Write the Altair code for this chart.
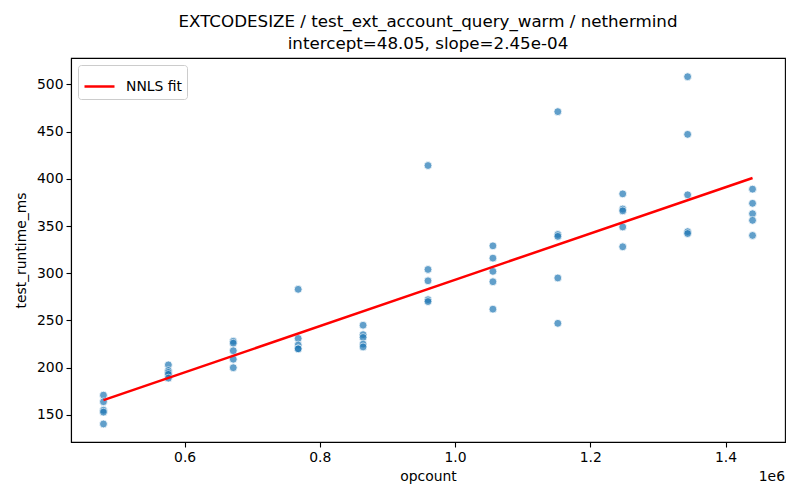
import altair as alt
import pandas as pd

# ---- data ----
opcounts = [480000, 576000, 672000, 768000, 864000, 960000,
            1056000, 1152000, 1248000, 1344000, 1440000]
runtimes = [
    [171, 164, 155, 153, 140.5],
    [203, 197, 195, 193, 189],
    [228, 226, 218, 209, 200],
    [283, 231, 224, 220, 220],
    [245, 235, 232, 225, 222],
    [414, 304, 292, 272, 270],
    [329, 316, 302, 291, 262],
    [471, 341, 339, 295, 247],
    [384, 368, 366, 349, 328],
    [508, 447, 383, 344, 342],
    [389, 374, 363, 356, 340],
]
intercept = 48.05
slope = 2.45e-4
fit_label = "NNLS fit"
title_lines = ["EXTCODESIZE / test_ext_account_query_warm / nethermind",
               "intercept=48.05, slope=2.45e-04"]
x_ticks = [600000, 800000, 1000000, 1200000, 1400000]
y_ticks = [150, 200, 250, 300, 350, 400, 450, 500]

rows = []
for x, ys in zip(opcounts, runtimes):
    for y in ys:
        rows.append({"opcount": x, "test_runtime_ms": y})
pts = pd.DataFrame(rows)

xmin, xmax = min(opcounts), max(opcounts)
fit = pd.DataFrame({
    "opcount": [xmin, xmax],
    "test_runtime_ms": [intercept + slope * xmin, intercept + slope * xmax],
    "series": [fit_label, fit_label],
})

W, H = 714, 384
FONT = "DejaVu Sans"

xscale = alt.Scale(domain=[432000, 1488000], nice=False, zero=False)
yscale = alt.Scale(domain=[121.4, 527.8], nice=False, zero=False)

xaxis = alt.Axis(values=x_ticks, labelExpr="format(datum.value / 1e6, '.1f')",
                 title="opcount", grid=False)
yaxis = alt.Axis(values=y_ticks, format="d", title="test_runtime_ms", grid=False)

scatter = alt.Chart(pts).mark_point(
    filled=True, shape="circle", size=62, color="#1f77b4",
    opacity=0.7, stroke="white", strokeWidth=0.8, strokeOpacity=1
).encode(
    x=alt.X("opcount:Q", scale=xscale, axis=xaxis),
    y=alt.Y("test_runtime_ms:Q", scale=yscale, axis=yaxis),
)

line = alt.Chart(fit).mark_line(strokeWidth=2.5).encode(
    x=alt.X("opcount:Q", scale=xscale),
    y=alt.Y("test_runtime_ms:Q", scale=yscale),
    color=alt.Color("series:N",
                    scale=alt.Scale(domain=[fit_label], range=["#ff0000"]),
                    legend=alt.Legend(
                        title=None, orient="none", legendX=7, legendY=7,
                        symbolType="stroke", symbolSize=900,
                        symbolStrokeWidth=2.5, labelFontSize=13.9,
                        labelFont=FONT, labelColor="black", labelOffset=10,
                        padding=5, cornerRadius=3, strokeColor="#cccccc",
                        fillColor="rgba(255,255,255,0.8)")),
)

offset_txt = alt.Chart(pd.DataFrame({"t": ["1e6"]})).mark_text(
    align="right", baseline="middle", fontSize=13.9, font=FONT, color="black"
).encode(text="t:N", x=alt.value(W), y=alt.value(H + 35))

chart = alt.layer(scatter, line, offset_txt).properties(
    width=W, height=H,
    title=alt.TitleParams(text=title_lines, fontSize=16.7, font=FONT,
                          fontWeight="normal", color="black", anchor="middle",
                          offset=5, lineHeight=22),
    autosize=alt.AutoSizeParams(type="none"),
    padding={"left": 63, "top": 50, "right": 7, "bottom": 50},
).configure_view(
    stroke="black", strokeWidth=1.1
).configure_axis(
    labelFont=FONT, labelFontSize=13.9, labelColor="black",
    titleFont=FONT, titleFontSize=13.9, titleColor="black",
    titleFontWeight="normal", domainColor="black", domainWidth=1.1,
    tickColor="black", tickWidth=1.1, tickSize=5, labelPadding=3,
).configure_axisX(titlePadding=6).configure_axisY(titlePadding=8)

chart.save("out.html", embed_options={"renderer": "svg", "actions": False})
